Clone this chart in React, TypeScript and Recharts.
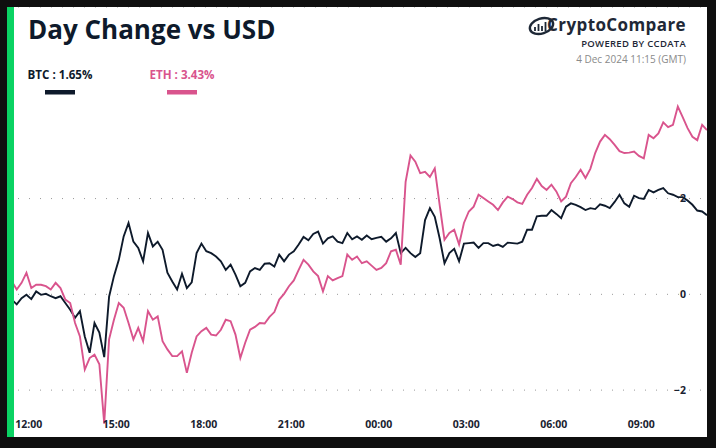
import { CartesianGrid, Line, LineChart, XAxis, YAxis } from 'recharts';

// 10-minute samples from 11:15 GMT (3 Dec) to 11:15 GMT (4 Dec), % change vs USD
const btc = [
  -0.11, -0.11, -0.21, -0.08, -0.01, -0.1, 0.06, -0.01, 0.01, -0.04,
  -0.08, -0.04, -0.18, -0.32, -0.49, -0.35, -0.88, -1.22, -0.6, -0.8,
  -1.31, -0.05, 0.38, 0.72, 1.21, 1.49, 1.1, 0.97, 0.69, 1.28,
  1.0, 1.1, 0.93, 0.45, 0.27, 0.1, 0.43, 0.13, 0.25, 0.86,
  1.06, 0.9, 0.86, 0.79, 0.69, 0.51, 0.62, 0.41, 0.17, 0.24,
  0.48, 0.55, 0.51, 0.64, 0.65, 0.58, 0.83, 0.69, 0.83, 0.9,
  1.04, 1.2, 1.13, 1.26, 1.31, 1.06, 1.17, 1.21, 1.1, 1.07,
  1.28, 1.15, 1.21, 1.14, 1.23, 1.15, 1.18, 1.2, 1.1, 1.17,
  1.28, 0.86, 0.97, 0.86, 0.78, 0.86, 1.55, 1.8, 1.62, 1.17,
  0.65, 0.86, 0.95, 0.69, 1.06, 1.07, 1.08, 0.97, 1.07, 1.07,
  1.01, 1.04, 0.99, 1.08, 1.07, 1.06, 1.1, 1.35, 1.35, 1.63,
  1.64, 1.64, 1.76, 1.68, 1.59, 1.83, 1.9, 1.87, 1.82, 1.76,
  1.8, 1.78, 1.88, 1.85, 1.8, 1.93, 2.08, 1.9, 1.83, 2.06,
  2.01, 1.99, 2.18, 2.13, 2.18, 2.22, 2.11, 2.08, 2.03, 2.03,
  1.96, 1.87, 1.75, 1.73, 1.65,
];

const eth = [
  0.31, 0.27, 0.1, 0.24, 0.45, 0.13, 0.2, 0.2, 0.17, 0.1,
  0.24, 0.13, -0.11, -0.18, -0.6, -0.88, -1.57, -1.33, -1.26, -1.46,
  -2.7, -0.94, -0.53, -0.18, -0.28, -0.6, -0.94, -0.7, -0.98, -0.35,
  -0.53, -0.46, -0.98, -1.15, -1.29, -1.29, -1.19, -1.64, -1.22, -0.88,
  -0.77, -0.7, -0.84, -0.86, -0.74, -0.53, -0.56, -0.84, -1.33, -1.01,
  -0.74, -0.68, -0.6, -0.61, -0.47, -0.37, -0.11, 0.01, 0.17, 0.29,
  0.51, 0.72, 0.62, 0.48, 0.38, 0.06, 0.38, 0.29, 0.34, 0.38,
  0.83, 0.72, 0.79, 0.65, 0.69, 0.6, 0.51, 0.55, 0.65, 0.9,
  0.93, 0.62, 2.35, 2.9, 2.77, 2.53, 2.56, 2.45, 2.63, 1.87,
  1.14, 1.28, 1.35, 1.04, 1.49, 1.73, 1.83, 2.08, 2.01, 1.94,
  1.87, 1.76, 1.92, 2.04, 1.99, 1.92, 1.89, 2.08, 2.22, 2.41,
  2.26, 2.18, 2.29, 2.15, 1.94, 2.04, 2.32, 2.45, 2.6, 2.43,
  2.62, 2.95, 3.19, 3.33, 3.24, 3.12, 2.99, 2.95, 2.96, 2.98,
  2.89, 2.84, 3.33, 3.26, 3.36, 3.59, 3.49, 3.54, 3.92, 3.7,
  3.47, 3.29, 3.22, 3.54, 3.43,
];

const tickTimes = [45, 225, 405, 585, 765, 945, 1125, 1305];
const tickLabels = ['12:00', '15:00', '18:00', '21:00', '00:00', '03:00', '06:00', '09:00'];
const yTicks = [-2, 0, 2];

const seriesKeys = ['btc', 'eth'];
const seriesNames = ['BTC', 'ETH'];
const seriesChanges = ['1.65%', '3.43%'];
const seriesColors = ['#0e1a2b', '#d9548d'];

const STEP_MIN = 10;
const rows = btc.map((v, i) => ({ t: i * STEP_MIN, btc: v, eth: eth[i] }));

const FONT = '"Open Sans", "Noto Sans", sans-serif';
const INK = '#0e1a2b';

function fmtY(v: number) {
  return v < 0 ? `\u2212${Math.abs(v)}` : String(v);
}

function fmtX(v: number) {
  const i = tickTimes.indexOf(v);
  return i >= 0 ? tickLabels[i] : '';
}

export default function App() {
  return (
    <div
      style={{
        position: 'fixed',
        left: 0,
        top: 0,
        width: 716,
        height: 448,
        background: '#0f0f0f',
        overflow: 'hidden',
        fontFamily: FONT,
      }}
    >
      <div
        style={{
          position: 'absolute',
          left: 7,
          top: 7,
          width: 700,
          height: 430,
          background: '#fff',
          overflow: 'hidden',
        }}
      >
        <LineChart width={700} height={431} data={rows} margin={{ top: 0, right: 0, bottom: 0, left: 0 }}>
          <CartesianGrid vertical={false} stroke="#9a9a9a" strokeDasharray="1 10" />
          <XAxis
            dataKey="t"
            type="number"
            domain={[0, 1440]}
            ticks={tickTimes}
            interval={0}
            tickFormatter={fmtX}
            mirror
            axisLine={false}
            tickLine={false}
            tickSize={0}
            tickMargin={10}
            tick={{ fontSize: 10.5, fontWeight: 700, fill: '#1a2230', fontFamily: FONT }}
          />
          <YAxis
            orientation="right"
            mirror
            domain={[-3, 6]}
            ticks={yTicks}
            interval={0}
            tickFormatter={fmtY}
            axisLine={false}
            tickLine={false}
            tickSize={0}
            tickMargin={21}
            tick={{ fontSize: 10.5, fontWeight: 700, fill: '#1a2230', fontFamily: FONT }}
          />
          {seriesKeys.map((k, i) => (
            <Line
              key={k}
              dataKey={k}
              type="linear"
              stroke={seriesColors[i]}
              strokeWidth={1.9}
              dot={false}
              activeDot={false}
              isAnimationActive={false}
            />
          ))}
        </LineChart>
      </div>

      {/* green accent bar */}
      <div style={{ position: 'absolute', left: 7, top: 7, width: 7, height: 430, background: '#0ad363' }} />

      <svg width={716} height={448} style={{ position: 'absolute', left: 0, top: 0, pointerEvents: 'none' }}>
        <text x={28} y={39} fontSize={26} fontWeight={700} fill={INK} fontFamily={FONT}>
          Day Change vs USD
        </text>

        {seriesNames.map((name, i) => {
          const cx = 60 + i * 122;
          return (
            <g key={name}>
              <text x={cx} y={79} textAnchor="middle" fontSize={11.6} fontWeight={700} fill={seriesColors[i]} fontFamily={FONT}>
                {`${name} : ${seriesChanges[i]}`}
              </text>
              <rect x={cx - 15} y={90} width={30} height={4.5} fill={seriesColors[i]} />
            </g>
          );
        })}

        {/* logo */}
        <g>
          <ellipse cx={541.5} cy={26} rx={12} ry={7.5} fill="none" stroke="#1e2836" strokeWidth={2.4} transform="rotate(-18 541.5 26)" />
          <path d="M535 31 L535 27 M538.5 31 L538.5 24 M542 31 L542 26 M545.5 31 L545.5 22" stroke="#1e2836" strokeWidth={1.8} />
        </g>
        <text x={686} y={31} textAnchor="end" fontSize={17} fontWeight={700} fill="#1e2836" fontFamily={FONT} letterSpacing={0.4}>
          CryptoCompare
        </text>
        <text x={686} y={47} textAnchor="end" fontSize={9.5} fontWeight={600} fill="#1e2836" fontFamily={FONT} letterSpacing={0.3}>
          POWERED BY CCDATA
        </text>
        <text x={686} y={63} textAnchor="end" fontSize={10} fill="#8a8a8a" fontFamily={FONT}>
          4 Dec 2024 11:15 (GMT)
        </text>
      </svg>
    </div>
  );
}
